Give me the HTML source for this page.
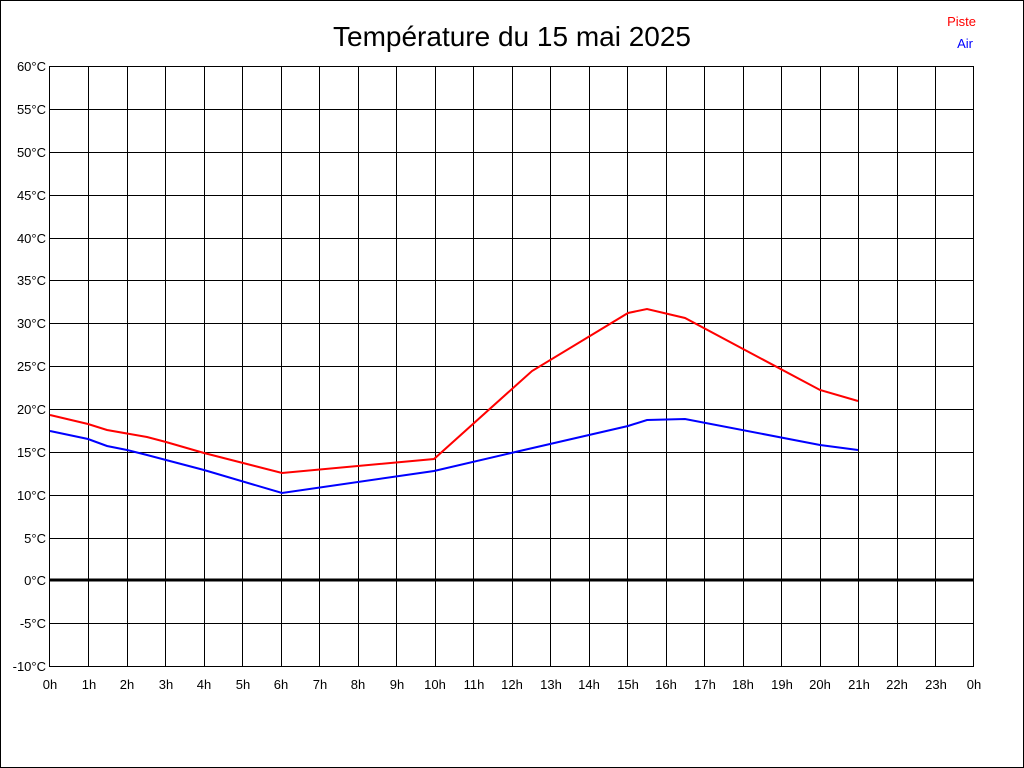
<!DOCTYPE html>
<html><head><meta charset="utf-8"><style>
html,body{margin:0;padding:0;background:#fff}
svg{display:block}
text{font-family:"Liberation Sans",sans-serif;font-size:13px;fill:#000}
</style></head><body>
<svg width="1024" height="768" xmlns="http://www.w3.org/2000/svg">
<rect x="0.5" y="0.5" width="1023" height="767" fill="#fff" stroke="#000"/>
<text x="512" y="46" text-anchor="middle" style="font-size:28px">Température du 15 mai 2025</text>
<text x="976" y="26" text-anchor="end" style="fill:#f00">Piste</text>
<text x="973" y="48" text-anchor="end" style="fill:#00f">Air</text>
<g stroke="#000" stroke-width="1" fill="none">
<rect x="49.5" y="66.5" width="924" height="600"/>
<path d="M88.5 66V666M127.5 66V666M165.5 66V666M204.5 66V666M242.5 66V666M281.5 66V666M319.5 66V666M358.5 66V666M396.5 66V666M435.5 66V666M473.5 66V666M512.5 66V666M550.5 66V666M589.5 66V666M627.5 66V666M666.5 66V666M704.5 66V666M743.5 66V666M781.5 66V666M820.5 66V666M858.5 66V666M897.5 66V666M935.5 66V666"/>
<path d="M49 109.5H974M49 152.5H974M49 195.5H974M49 238.5H974M49 280.5H974M49 323.5H974M49 366.5H974M49 409.5H974M49 452.5H974M49 495.5H974M49 538.5H974M49 623.5H974"/>
</g>
<line x1="49" y1="580" x2="974" y2="580" stroke="#000" stroke-width="3"/>
<g text-anchor="end">
<text x="46" y="71">60°C</text><text x="46" y="114">55°C</text><text x="46" y="157">50°C</text><text x="46" y="200">45°C</text><text x="46" y="243">40°C</text><text x="46" y="285">35°C</text><text x="46" y="328">30°C</text><text x="46" y="371">25°C</text><text x="46" y="414">20°C</text><text x="46" y="457">15°C</text><text x="46" y="500">10°C</text><text x="46" y="543">5°C</text><text x="46" y="585">0°C</text><text x="46" y="628">-5°C</text><text x="46" y="671">-10°C</text>
</g>
<g text-anchor="middle">
<text x="50" y="689">0h</text><text x="89" y="689">1h</text><text x="127" y="689">2h</text><text x="166" y="689">3h</text><text x="204" y="689">4h</text><text x="243" y="689">5h</text><text x="281" y="689">6h</text><text x="320" y="689">7h</text><text x="358" y="689">8h</text><text x="397" y="689">9h</text><text x="435" y="689">10h</text><text x="474" y="689">11h</text><text x="512" y="689">12h</text><text x="551" y="689">13h</text><text x="589" y="689">14h</text><text x="628" y="689">15h</text><text x="666" y="689">16h</text><text x="705" y="689">17h</text><text x="743" y="689">18h</text><text x="782" y="689">19h</text><text x="820" y="689">20h</text><text x="859" y="689">21h</text><text x="897" y="689">22h</text><text x="936" y="689">23h</text><text x="974" y="689">0h</text>
</g>
<polyline fill="none" stroke="#f00" stroke-width="2" points="50,415 88,424 107,430 147,437 166,442 204,453 282,473 434,459 532,371 628,313 647,309 685,318 820,390 858,401"/>
<polyline fill="none" stroke="#00f" stroke-width="2" points="50,431 88,439 107,446 127,450 147,455 204,470 282,493 434,471 511,453 628,426 647,420 685,419 820,445 858,450"/>
</svg>
</body></html>
